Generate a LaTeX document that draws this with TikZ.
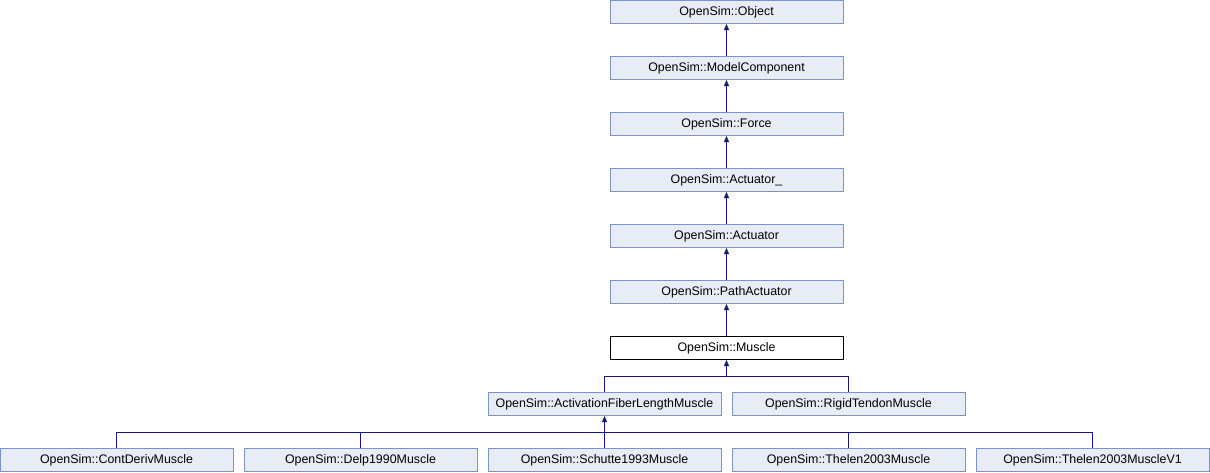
\documentclass[tikz,border=0pt]{standalone}
\usepackage{fontspec}
\setmainfont{Liberation Sans}
\usetikzlibrary{arrows.meta}
\definecolor{boxfill}{HTML}{E8ECF5}
\definecolor{boxline}{HTML}{7B93C9}
\definecolor{edge}{HTML}{191970}
\begin{document}
\begin{tikzpicture}[x=1pt,y=-1pt,
  cls/.style={draw=boxline,fill=boxfill,line width=1pt,rectangle,
    minimum width=233pt,minimum height=23pt,inner sep=0pt,
    font=\fontsize{12.4}{14}\selectfont},
  cur/.style={cls,draw=black,fill=white},
  inh/.style={draw=edge,line width=1pt,-{Triangle[length=6pt,width=5pt]}}]
\useasboundingbox (0,0) rectangle (1210,472);
% inheritance chain
\node[cls] (obj)  at (726.5,12)  {OpenSim::Object};
\node[cls] (mc)   at (726.5,68)  {OpenSim::ModelComponent};
\node[cls] (frc)  at (726.5,124) {OpenSim::Force};
\node[cls] (act_) at (726.5,180) {OpenSim::Actuator\_};
\node[cls] (act)  at (726.5,236) {OpenSim::Actuator};
\node[cls] (pa)   at (726.5,292) {OpenSim::PathActuator};
\node[cur] (mus)  at (726.5,348) {OpenSim::Muscle};
% direct subclasses of Muscle
\node[cls] (afl)  at (604.5,404) {OpenSim::ActivationFiberLengthMuscle};
\node[cls] (rtm)  at (848.5,404) {OpenSim::RigidTendonMuscle};
% subclasses of ActivationFiberLengthMuscle
\node[cls] (cdm)  at (116.5,460)  {OpenSim::ContDerivMuscle};
\node[cls] (dlp)  at (360.5,460)  {OpenSim::Delp1990Muscle};
\node[cls] (sch)  at (604.5,460)  {OpenSim::Schutte1993Muscle};
\node[cls] (th)   at (848.5,460)  {OpenSim::Thelen2003Muscle};
\node[cls] (thv)  at (1092.5,460) {OpenSim::Thelen2003MuscleV1};
% edges
\draw[inh] (mc.north)  -- (obj.south);
\draw[inh] (frc.north) -- (mc.south);
\draw[inh] (act_.north) -- (frc.south);
\draw[inh] (act.north) -- (act_.south);
\draw[inh] (pa.north)  -- (act.south);
\draw[inh] (mus.north) -- (pa.south);
\coordinate (busA) at (726.5,376.5);
\draw[draw=edge,line width=1pt] (afl.north) |- (busA) -| (rtm.north);
\draw[inh] (busA) -- (mus.south);
\coordinate (busB) at (604.5,432.5);
\draw[draw=edge,line width=1pt] (cdm.north) |- (busB) -| (thv.north);
\draw[draw=edge,line width=1pt] (dlp.north) -- (dlp.north |- busB);
\draw[draw=edge,line width=1pt] (th.north) -- (th.north |- busB);
\draw[inh] (sch.north) -- (afl.south);
\end{tikzpicture}
\end{document}
